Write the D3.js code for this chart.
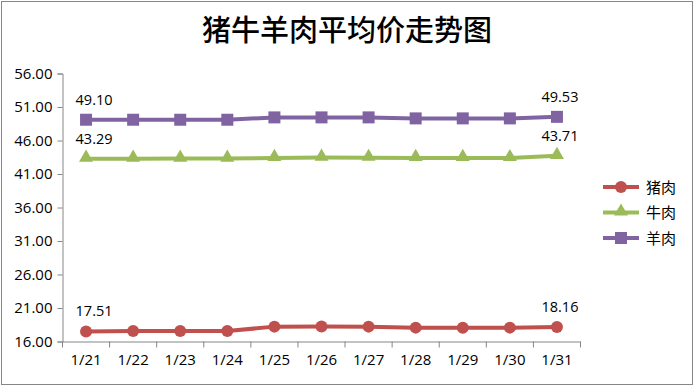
<!DOCTYPE html>
<html>
<head>
<meta charset="utf-8">
<script src="https://cdn.jsdelivr.net/npm/d3@7"></script>
<style>
  body { margin: 0; background: #fff; }
  #chart { width: 694px; height: 386px; }
</style>
</head>
<body>
<div id="chart"></div>
<script>
var dates = ["1/21", "1/22", "1/23", "1/24", "1/25", "1/26", "1/27", "1/28", "1/29", "1/30", "1/31"];
var pork = [17.51, 17.55, 17.55, 17.55, 18.22, 18.25, 18.22, 18.07, 18.05, 18.07, 18.16];
var beef = [43.29, 43.29, 43.30, 43.30, 43.40, 43.45, 43.42, 43.40, 43.40, 43.38, 43.71];
var mutton = [49.10, 49.10, 49.10, 49.10, 49.45, 49.45, 49.45, 49.30, 49.30, 49.30, 49.53];
var yTicks = [16, 21, 26, 31, 36, 41, 46, 51, 56];

var series = [
  { name: "猪肉", values: pork, color: "#C0504D", marker: "circle" },
  { name: "牛肉", values: beef, color: "#9BBB59", marker: "triangle" },
  { name: "羊肉", values: mutton, color: "#8064A2", marker: "square" }
];

var width = 694, height = 386;
var axisColor = "#868686";
var plotLeft = 62.5, plotRight = 580.5, plotTop = 73.5, plotBottom = 341.5;

var svg = d3.select("#chart").append("svg")
  .attr("width", width)
  .attr("height", height);

svg.append("rect")
  .attr("x", 1.5).attr("y", 1.5)
  .attr("width", width - 3).attr("height", height - 3)
  .attr("fill", "#fff")
  .attr("stroke", axisColor)
  .attr("stroke-width", 1);

svg.append("text")
  .attr("x", 347).attr("y", 41)
  .attr("text-anchor", "middle")
  .style("font-family", "'Noto Sans CJK SC'")
  .style("font-size", "29px")
  .style("font-weight", "500")
  .text("猪牛羊肉平均价走势图");

var x = d3.scaleBand().domain(dates).range([plotLeft, plotRight]);
var y = d3.scaleLinear().domain([16, 56]).range([plotBottom, plotTop]);

var yAxis = svg.append("g")
  .attr("transform", "translate(" + plotLeft + ",0)")
  .call(d3.axisLeft(y).tickValues(yTicks).tickFormat(d3.format(".2f")).tickSize(5).tickPadding(5));

var xAxis = svg.append("g")
  .attr("transform", "translate(0," + plotBottom + ")")
  .call(d3.axisBottom(x).tickSize(0).tickPadding(13));

// tick marks at band edges
var edges = dates.map(function (d) { return x(d); }).concat([plotRight]);
xAxis.selectAll(".edge").data(edges).enter().append("line")
  .attr("x1", function (d) { return d; }).attr("x2", function (d) { return d; })
  .attr("y1", 0).attr("y2", 6)
  .attr("stroke", axisColor);

[yAxis, xAxis].forEach(function (a) {
  a.select(".domain").attr("stroke", axisColor);
  a.selectAll(".tick line").attr("stroke", axisColor);
  a.selectAll("text")
    .attr("fill", "#000")
    .style("font-family", "'Open Sans', sans-serif")
    .style("font-size", "15px");
});

var line = d3.line()
  .x(function (d, i) { return x(dates[i]) + x.bandwidth() / 2; })
  .y(function (d) { return y(d); });

function drawMarker(g, type, color) {
  if (type === "circle") {
    g.append("circle").attr("r", 6).attr("fill", color);
  } else if (type === "square") {
    g.append("rect").attr("x", -6).attr("y", -6).attr("width", 12).attr("height", 12).attr("fill", color);
  } else {
    g.append("path").attr("d", d3.symbol().type(d3.symbolTriangle).size(85)()).attr("fill", color)
      .attr("transform", "translate(0,-1)");
  }
}

series.forEach(function (s) {
  svg.append("path")
    .datum(s.values)
    .attr("d", line)
    .attr("fill", "none")
    .attr("stroke", s.color)
    .attr("stroke-width", 4);

  s.values.forEach(function (v, i) {
    var g = svg.append("g")
      .attr("transform", "translate(" + (x(dates[i]) + x.bandwidth() / 2) + "," + y(v) + ")");
    drawMarker(g, s.marker, s.color);
  });

  var last = s.values.length - 1;
  [[0, 8], [last, 3]].forEach(function (p) {
    svg.append("text")
      .attr("x", x(dates[p[0]]) + x.bandwidth() / 2 + p[1])
      .attr("y", y(s.values[p[0]]) - 15)
      .attr("text-anchor", "middle")
      .style("font-family", "'Open Sans', sans-serif")
      .style("font-size", "14.5px")
      .text(s.values[p[0]].toFixed(2));
  });
});

var legend = svg.append("g").attr("transform", "translate(603,187)");
series.forEach(function (s, i) {
  var g = legend.append("g").attr("transform", "translate(0," + i * 25.5 + ")");
  g.append("line").attr("x1", 0).attr("x2", 36).attr("stroke", s.color).attr("stroke-width", 4);
  var m = g.append("g").attr("transform", "translate(18,0)");
  drawMarker(m, s.marker, s.color);
  g.append("text")
    .attr("x", 43).attr("y", 5.5)
    .style("font-family", "'Noto Sans CJK SC'")
    .style("font-size", "15px")
    .text(s.name);
});
</script>
</body>
</html>
